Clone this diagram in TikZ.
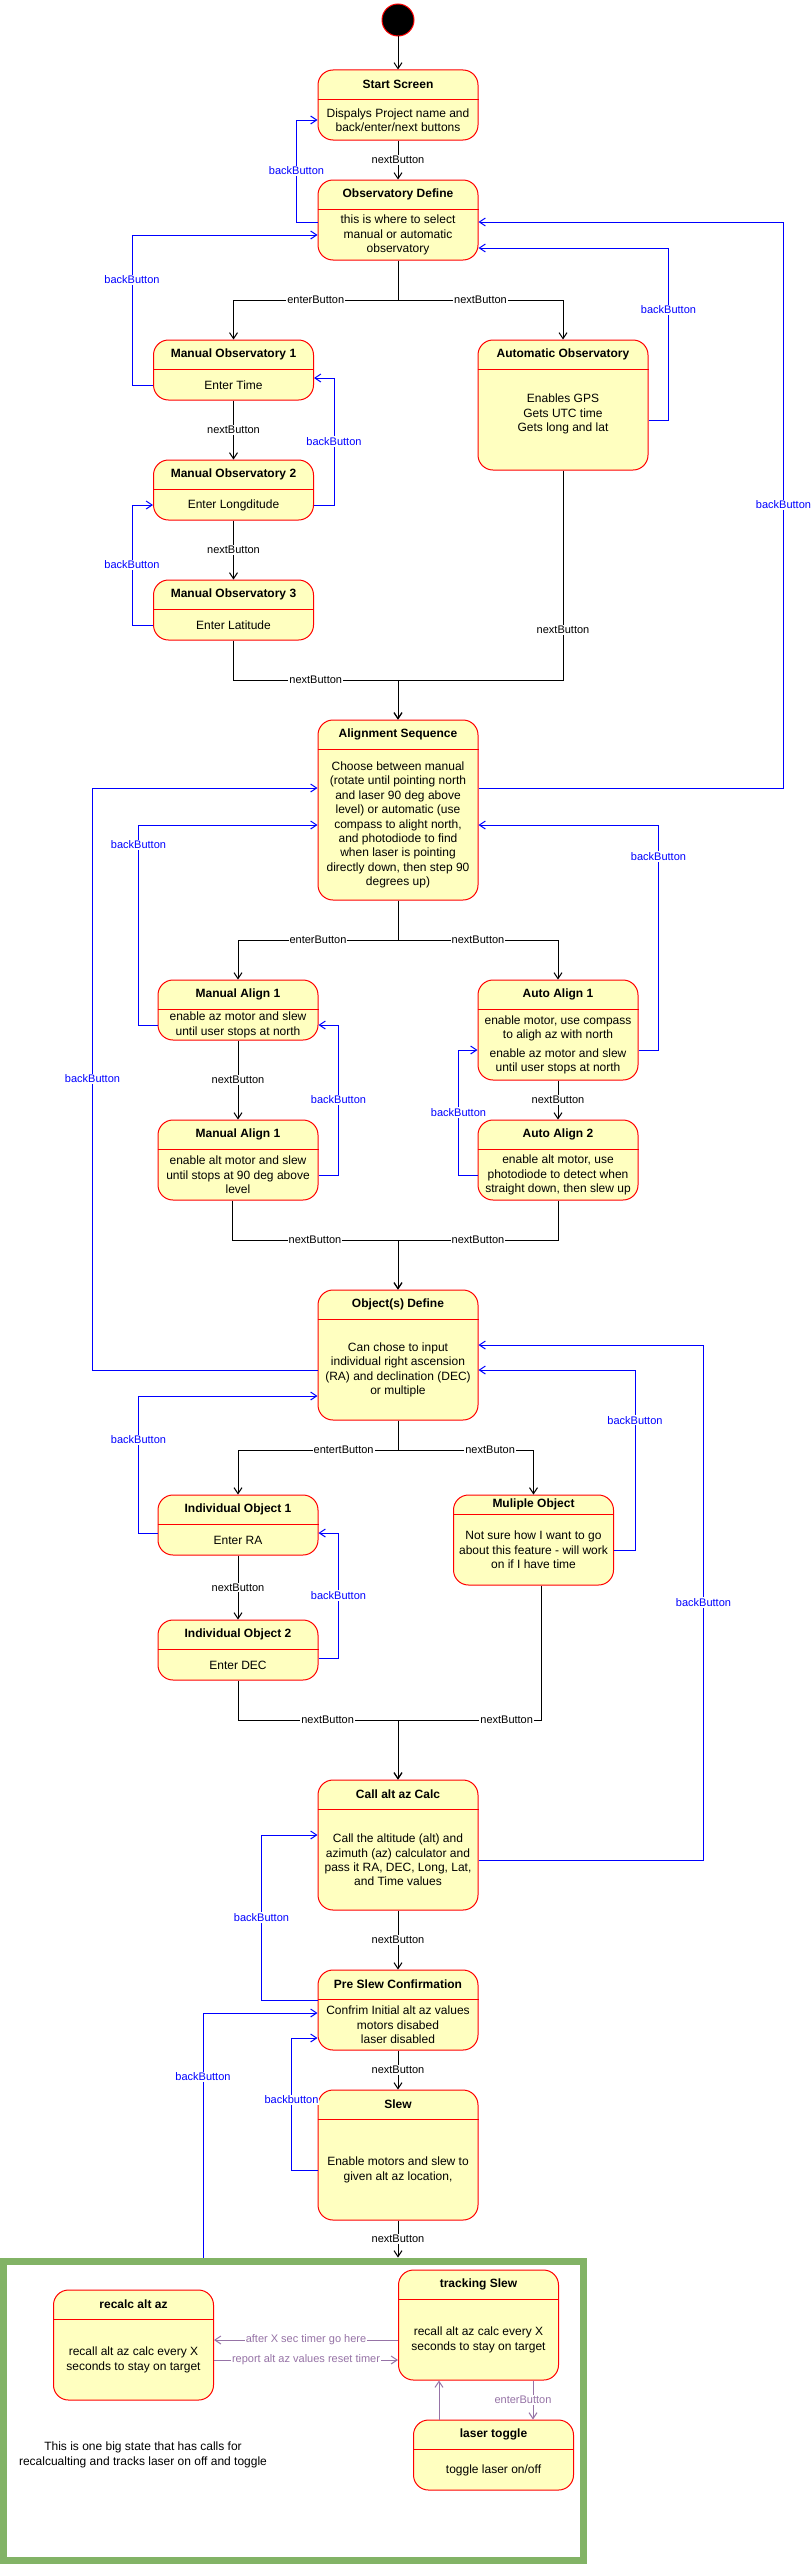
\documentclass[tikz,border=0pt]{standalone}
\usepackage{fontspec}
\setmainfont{Liberation Sans}
\usetikzlibrary{arrows.meta}
\definecolor{statefill}{HTML}{FFFFC0}
\definecolor{statered}{HTML}{FF0000}
\definecolor{backblue}{HTML}{0000FF}
\definecolor{innerpurple}{HTML}{9673A6}
\definecolor{biggreen}{HTML}{82B366}
% name, centre x, top y, width, height, title height, title, body
\newcommand{\umlstate}[8]{%
  \node[statebox, minimum width=#4pt, minimum height=#5pt] (#1) at (#2,#3+#5/2) {};
  \draw[divider] ([yshift=-#6pt]#1.north west) -- ([yshift=-#6pt]#1.north east);
  \node[statetitle] (#1-title) at ([yshift=-#6/2]#1.north) {#7};
  \node[statebody] (#1-body) at ([yshift=-#6/2]#1.center) {#8};
}
\begin{document}
\begin{tikzpicture}[x=1pt, y=-1pt,
    statebox/.style={draw=statered, fill=statefill, rounded corners=15pt, line width=1pt, inner sep=0pt},
    divider/.style={draw=statered, line width=1pt},
    statetitle/.style={font=\bfseries\fontsize{12}{14.4}\selectfont},
    statebody/.style={align=center, font=\fontsize{12}{14.4}\selectfont},
    startstate/.style={circle, fill=black, draw=statered, line width=1pt, minimum size=32pt, inner sep=0pt},
    bigstate/.style={draw=biggreen, fill=white, line width=7pt, inner sep=0pt},
    lbl/.style={fill=white, inner sep=1pt, font=\fontsize{11}{13}\selectfont},
    nav/.style={color=black, line width=1pt, -{Straight Barb[length=6pt,width=8pt]}},
    back/.style={color=backblue, line width=1pt, -{Straight Barb[length=6pt,width=8pt]}},
    innerlink/.style={color=innerpurple, line width=1pt, -{Straight Barb[length=6pt,width=8pt]}},
    note/.style={align=center, font=\fontsize{12}{14.4}\selectfont}]
    \useasboundingbox (0,0) rectangle (811,2564);

    % big tracking state
    \node[bigstate, minimum width=580pt, minimum height=299pt] (big) at (293.5,2410.5) {};

    \node[startstate] (init) at (398,20) {};
    \umlstate{ss}{398}{70}{160}{70}{30}{Start Screen}{Dispalys Project name and\\back/enter/next buttons}
    \umlstate{od}{398}{180}{160}{80}{30}{Observatory Define}{this is where to select\\manual or automatic\\observatory}
    \umlstate{mo1}{233.5}{340}{160}{60}{30}{Manual Observatory 1}{Enter Time}
    \umlstate{mo2}{233.5}{460}{160}{60}{30}{Manual Observatory 2}{Enter Longditude}
    \umlstate{mo3}{233.5}{580}{160}{60}{30}{Manual Observatory 3}{Enter Latitude}
    \umlstate{ao}{563}{340}{170}{130}{30}{Automatic Observatory}{Enables GPS\\Gets UTC time\\Gets long and lat\\\mbox{}}
    \umlstate{as}{398}{720}{160}{180}{30}{Alignment Sequence}{Choose between manual\\(rotate until pointing north\\and laser 90 deg above\\level) or automatic (use\\compass to alight north,\\and photodiode to find\\when laser is pointing\\directly down, then step 90\\degrees up)}
    \umlstate{ma1}{238}{980}{160}{60}{30}{Manual Align 1}{enable az motor and slew\\until user stops at north}
    \umlstate{ma2}{238}{1120}{160}{80}{30}{Manual Align 1}{enable alt motor and slew\\until stops at 90 deg above\\level}
    \umlstate{aa1}{558}{980}{160}{100}{30}{Auto Align 1}{enable motor, use compass\\to aligh az with north\\[4pt]enable az motor and slew\\until user stops at north}
    \umlstate{aa2}{558}{1120}{160}{80}{30}{Auto Align 2}{enable alt motor, use\\photodiode to detect when\\straight down, then slew up}
    \umlstate{obj}{398}{1290}{160}{130}{30}{Object(s) Define}{Can chose to input\\individual right ascension\\(RA) and declination (DEC)\\or multiple}
    \umlstate{io1}{238}{1495}{160}{60}{30}{Individual Object 1}{Enter RA}
    \umlstate{io2}{238}{1620}{160}{60}{30}{Individual Object 2}{Enter DEC}
    \umlstate{mul}{533.5}{1495}{160}{90}{20}{Muliple Object}{Not sure how I want to go\\about this feature - will work\\on if I have time}
    \umlstate{cac}{398}{1780}{160}{130}{30}{Call alt az Calc}{Call the altitude (alt) and\\azimuth (az) calculator and\\pass it RA, DEC, Long, Lat,\\and Time values}
    \umlstate{psc}{398}{1970}{160}{80}{30}{Pre Slew Confirmation}{Confrim Initial alt az values\\motors disabed\\laser disabled}
    \umlstate{slew}{398}{2090}{160}{130}{30}{Slew}{Enable motors and slew to\\given alt az location,}
    \umlstate{trk}{478.5}{2270}{160}{110}{30}{tracking Slew}{recall alt az calc every X\\seconds to stay on target}
    \umlstate{rec}{133.5}{2290}{160}{110}{30}{recalc alt az}{recall alt az calc every X\\seconds to stay on target}
    \umlstate{lt}{493.5}{2420}{160}{70}{30}{laser toggle}{toggle laser on/off}
    \node[note] (bignote) at (143,2455) {This is one big state that has calls for\\recalcualting and tracks laser on off and toggle};

    % forward transitions
    \draw[nav] (init) -- (ss);
    \draw[nav] (ss) -- node[lbl]{nextButton} (od);
    \draw[nav] (od.south) -- (od.south |- 0,300) -| node[lbl,pos=0.25]{enterButton} (mo1.north);
    \draw[nav] (od.south) -- (od.south |- 0,300) -| node[lbl,pos=0.25]{nextButton} (ao.north);
    \draw[nav] (mo1) -- node[lbl]{nextButton} (mo2);
    \draw[nav] (mo2) -- node[lbl]{nextButton} (mo3);
    \draw[nav] (mo3.south) |- node[lbl,pos=0.75]{nextButton} (as.north |- 0,680) -- (as.north);
    \draw[nav] (ao.south) -- node[lbl,pos=0.76]{nextButton} (ao.south |- 0,680) -| (as.north);
    \draw[nav] (as.south) -- (as.south |- 0,940) -| node[lbl,pos=0.25]{enterButton} (ma1.north);
    \draw[nav] (as.south) -- (as.south |- 0,940) -| node[lbl,pos=0.25]{nextButton} (aa1.north);
    \draw[nav] (ma1) -- node[lbl]{nextButton} (ma2);
    \draw[nav] (aa1) -- node[lbl]{nextButton} (aa2);
    \draw[nav] ([xshift=-6pt]ma2.south) |- node[lbl,pos=0.75]{nextButton} (obj.north |- 0,1240) -- (obj.north);
    \draw[nav] (aa2.south) |- node[lbl,pos=0.75]{nextButton} (obj.north |- 0,1240) -- (obj.north);
    \draw[nav] (obj.south) -- (obj.south |- 0,1450) -| node[lbl,pos=0.17]{entertButton} (io1.north);
    \draw[nav] (obj.south) -- (obj.south |- 0,1450) -| node[lbl,pos=0.34]{nextButon} (mul.north);
    \draw[nav] (io1) -- node[lbl]{nextButton} (io2);
    \draw[nav] (io2.south) |- node[lbl,pos=0.78]{nextButton} (cac.north |- 0,1720) -- (cac.north);
    \draw[nav] ([xshift=7.5pt]mul.south) |- node[lbl,pos=0.62]{nextButton} (cac.north |- 0,1720) -- (cac.north);
    \draw[nav] (cac) -- node[lbl]{nextButton} (psc);
    \draw[nav] (psc) -- node[lbl]{nextButton} (slew);
    \draw[nav] (slew) -- node[lbl]{nextButton} (slew.south |- big.north);

    % back transitions
    \draw[back] (od.west |- 0,222) -- ++(-21,0) |- node[lbl,pos=0.25]{backButton} (ss.west |- 0,120);
    \draw[back] (mo1.west |- 0,385) -- ++(-21,0) |- node[lbl,pos=0.35]{backButton} (od.west |- 0,235);
    \draw[back] (ao.east |- 0,420) -- ++(20,0) |- node[lbl,pos=0.32]{backButton} (od.east |- 0,248);
    \draw[back] (as.east |- 0,788) -- ++(305,0) |- node[lbl,pos=0.25]{backButton} (od.east |- 0,222);
    \draw[back] (mo2.east |- 0,505) -- ++(20,0) |- node[lbl,pos=0.25]{backButton} (mo1.east |- 0,378);
    \draw[back] (mo3.west |- 0,625) -- ++(-21,0) |- node[lbl,pos=0.25]{backButton} (mo2.west |- 0,505);
    \draw[back] (obj.west |- 0,1370) -- ++(-225,0) |- node[lbl,pos=0.25]{backButton} (as.west |- 0,788);
    \draw[back] (ma1.west |- 0,1025) -- ++(-19,0) |- node[lbl,pos=0.45]{backButton} (as.west |- 0,825);
    \draw[back] (aa1.east |- 0,1050) -- ++(20,0) |- node[lbl,pos=0.43]{backButton} (as.east |- 0,825);
    \draw[back] (ma2.east |- 0,1175) -- ++(20,0) |- node[lbl,pos=0.25]{backButton} (ma1.east |- 0,1025);
    \draw[back] (aa2.west |- 0,1175) -- ++(-19,0) |- node[lbl,pos=0.25]{backButton} (aa1.west |- 0,1050);
    \draw[back] (io1.west |- 0,1533) -- ++(-19,0) |- node[lbl,pos=0.34]{backButton} (obj.west |- 0,1396);
    \draw[back] (io2.east |- 0,1658) -- ++(20,0) |- node[lbl,pos=0.25]{backButton} (io1.east |- 0,1533);
    \draw[back] (mul.east |- 0,1550) -- ++(21,0) |- node[lbl,pos=0.36]{backButton} (obj.east |- 0,1370);
    \draw[back] (cac.east |- 0,1860) -- ++(225,0) |- node[lbl,pos=0.25]{backButton} (obj.east |- 0,1345);
    \draw[back] (psc.west |- 0,2000) -- ++(-56,0) |- node[lbl,pos=0.25]{backButton} (cac.west |- 0,1835);
    \draw[back] (big.north -| 203,0) |- node[lbl,pos=0.37]{backButton} (psc.west |- 0,2013);
    \draw[back] (slew.west |- 0,2170) -- ++(-26,0) |- node[lbl,pos=0.265]{backbutton} (psc.west |- 0,2038);

    % inside the big state
    \draw[innerlink] (trk.west |- 0,2340) -- node[lbl]{after X sec timer go here} (rec.east |- 0,2340);
    \draw[innerlink] (rec.east |- 0,2360) -- node[lbl]{report alt az values reset timer} (trk.west |- 0,2360);
    \draw[innerlink] (trk.south -| 533,0) -- node[lbl,xshift=-10pt]{enterButton} (lt.north -| 533,0);
    \draw[innerlink] (lt.north -| 439,0) -- (trk.south -| 439,0);
\end{tikzpicture}
\end{document}
